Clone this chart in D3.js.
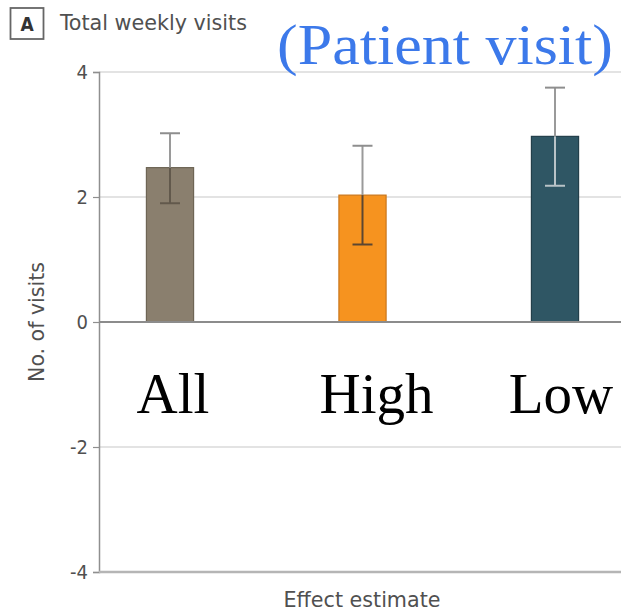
<!DOCTYPE html>
<html>
<head>
<meta charset="utf-8">
<script src="https://cdn.jsdelivr.net/npm/d3@7"></script>
<style>
  html, body { margin: 0; padding: 0; background: #fff; }
  svg { display: block; }
  .sans { font-family: "Liberation Sans Narrow", "DejaVu Sans Condensed", "Roboto", sans-serif; }
  .serif { font-family: "Liberation Serif", "DejaVu Serif", serif; }
</style>
</head>
<body>
<svg id="chart" width="621" height="614"></svg>
<script>
// Effect estimates for total weekly visits, by group
const categories = ["All", "High", "Low"];
const estimates = [2.47, 2.03, 2.97];
const lowerCI = [1.90, 1.24, 2.18];
const upperCI = [3.02, 2.82, 3.75];
const yTicks = [-4, -2, 0, 2, 4];

const barFill = ["#8a7f6e", "#f6931f", "#2f5664"];
const barEdge = ["#6e6555", "#c9761b", "#233f4a"];
const innerWhisker = ["#62594c", "#5c4631", "#b9c3c7"];
const labelShift = [3, 14, 6];

const svg = d3.select("#chart");
const axisX = 99;

const y = d3.scaleLinear().domain([-4, 4]).range([572, 72]);
const x = d3.scaleBand()
  .domain(categories)
  .range([73.75, 651.25])
  .paddingInner(0.755)
  .paddingOuter(0.3775);

// Horizontal reference lines
svg.append("g").selectAll("line")
  .data(yTicks.filter(t => t !== 0 && t !== -4))
  .join("line")
  .attr("x1", axisX).attr("x2", 621)
  .attr("y1", d => y(d)).attr("y2", d => y(d))
  .attr("stroke", "#e3e3e3").attr("stroke-width", 2);

// Left axis with ticks
const yAxis = d3.axisLeft(y).tickValues(yTicks).tickSize(6).tickPadding(5).tickFormat(d3.format("d"));
const gy = svg.append("g").attr("transform", `translate(${axisX},0)`).call(yAxis);
gy.select(".domain").attr("stroke", "#8f8f8f").attr("stroke-width", 1.5);
gy.selectAll(".tick line").attr("stroke", "#8f8f8f").attr("stroke-width", 1.2);
gy.selectAll(".tick text")
  .attr("class", "sans")
  .attr("fill", "#505050")
  .attr("font-size", 20)
  .text(d => d < 0 ? "-" + Math.abs(d) : d);

// Bars
svg.append("g").selectAll("rect")
  .data(categories)
  .join("rect")
  .attr("x", d => x(d))
  .attr("width", x.bandwidth())
  .attr("y", (d, i) => y(estimates[i]))
  .attr("height", (d, i) => y(0) - y(estimates[i]))
  .attr("fill", (d, i) => barFill[i])
  .attr("stroke", (d, i) => barEdge[i])
  .attr("stroke-width", 1.2);

// Zero line and bottom baseline
svg.append("line")
  .attr("x1", axisX).attr("x2", 621)
  .attr("y1", y(0)).attr("y2", y(0))
  .attr("stroke", "#8c8c8c").attr("stroke-width", 2);
svg.append("line")
  .attr("x1", axisX).attr("x2", 621)
  .attr("y1", y(-4)).attr("y2", y(-4))
  .attr("stroke", "#b5b5b5").attr("stroke-width", 2.5);

// Confidence intervals
const whiskers = svg.append("g");
categories.forEach((c, i) => {
  const cx = x(c) + x.bandwidth() / 2;
  const top = y(upperCI[i]), bot = y(lowerCI[i]), barTop = y(estimates[i]);
  whiskers.append("line")
    .attr("x1", cx).attr("x2", cx).attr("y1", top).attr("y2", barTop)
    .attr("stroke", "#9a9a9a").attr("stroke-width", 2);
  whiskers.append("line")
    .attr("x1", cx).attr("x2", cx).attr("y1", barTop).attr("y2", bot)
    .attr("stroke", innerWhisker[i]).attr("stroke-width", 2);
  whiskers.append("line")
    .attr("x1", cx - 10).attr("x2", cx + 10).attr("y1", top).attr("y2", top)
    .attr("stroke", "#8e8e8e").attr("stroke-width", 2);
  whiskers.append("line")
    .attr("x1", cx - 10).attr("x2", cx + 10).attr("y1", bot).attr("y2", bot)
    .attr("stroke", innerWhisker[i]).attr("stroke-width", 2);
});

// Group labels
svg.append("g").selectAll("text")
  .data(categories)
  .join("text")
  .attr("class", "serif")
  .attr("x", (d, i) => x(d) + x.bandwidth() / 2 + labelShift[i])
  .attr("y", 413)
  .attr("text-anchor", "middle")
  .attr("font-size", 57)
  .attr("fill", "#000")
  .text(d => d);

// Panel tag and title
svg.append("rect")
  .attr("x", 10.5).attr("y", 8).attr("width", 33).attr("height", 31)
  .attr("fill", "#fff").attr("stroke", "#666").attr("stroke-width", 1.8);
svg.append("text")
  .attr("class", "sans")
  .attr("x", 27).attr("y", 31)
  .attr("text-anchor", "middle")
  .attr("font-size", 19).attr("font-weight", "bold").attr("fill", "#333")
  .text("A");
svg.append("text")
  .attr("class", "sans")
  .attr("x", 60).attr("y", 30)
  .attr("font-size", 21).attr("fill", "#505050")
  .attr("textLength", 187).attr("lengthAdjust", "spacingAndGlyphs")
  .text("Total weekly visits");

svg.append("text")
  .attr("class", "serif")
  .attr("x", 277).attr("y", 64)
  .attr("font-size", 57).attr("fill", "#3c79ea")
  .attr("textLength", 336).attr("lengthAdjust", "spacingAndGlyphs")
  .text("(Patient visit)");

// Axis titles
svg.append("text")
  .attr("class", "sans")
  .attr("transform", `translate(44,${y(0)}) rotate(-90)`)
  .attr("text-anchor", "middle")
  .attr("font-size", 21).attr("fill", "#505050")
  .attr("textLength", 120).attr("lengthAdjust", "spacingAndGlyphs")
  .text("No. of visits");
svg.append("text")
  .attr("class", "sans")
  .attr("x", 362).attr("y", 607)
  .attr("text-anchor", "middle")
  .attr("font-size", 22).attr("fill", "#505050")
  .attr("textLength", 157).attr("lengthAdjust", "spacingAndGlyphs")
  .text("Effect estimate");
</script>
</body>
</html>
